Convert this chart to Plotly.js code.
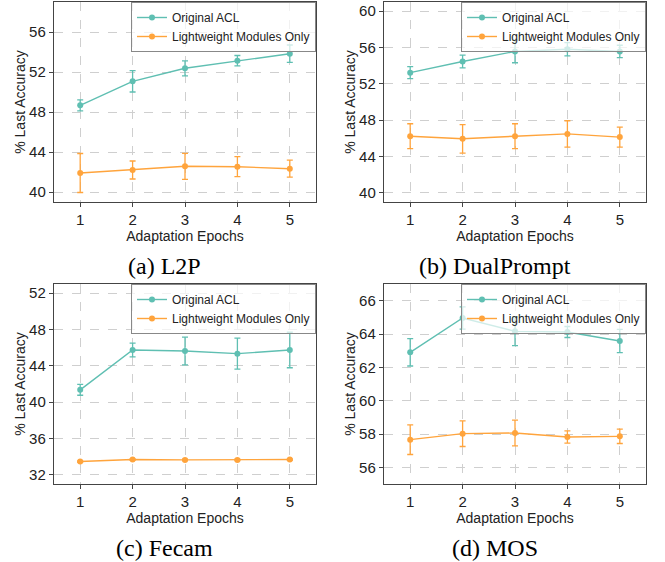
<!DOCTYPE html>
<html>
<head>
<meta charset="utf-8">
<script src="https://cdn.plot.ly/plotly-3.0.1.min.js"></script>
<style>html,body{margin:0;padding:0;background:#fff;}#chart{width:665px;height:562px;}</style>
</head>
<body>
<div id="chart"></div>
<script>
// ---- Data ----
const epochs = [1, 2, 3, 4, 5];
const seriesNames = ["Original ACL", "Lightweight Modules Only"];
const panelCaptions = ["(a) L2P", "(b) DualPrompt", "(c) Fecam", "(d) MOS"];

const l2pACL = [48.67, 51.07, 52.37, 53.13, 53.83];
const l2pACLErr = [0.55, 1.07, 0.75, 0.52, 0.87];
const l2pLW = [41.9, 42.2, 42.57, 42.53, 42.33];
const l2pLWErr = [1.95, 0.9, 1.3, 1.0, 0.85];

const dpACL = [53.23, 54.46, 55.56, 55.81, 55.56];
const dpACLErr = [0.66, 0.7, 1.24, 0.73, 0.68];
const dpLW = [46.24, 45.95, 46.24, 46.49, 46.14];
const dpLWErr = [1.37, 1.57, 1.37, 1.45, 1.1];

const fecamACL = [41.36, 45.74, 45.63, 45.34, 45.74];
const fecamACLErr = [0.6, 0.75, 1.52, 1.7, 1.95];
const fecamLW = [33.47, 33.69, 33.65, 33.65, 33.69];
const fecamLWErr = [0.08, 0.08, 0.08, 0.08, 0.08];

const mosACL = [62.9, 64.96, 64.16, 64.12, 63.58];
const mosACLErr = [0.82, 0.67, 0.86, 0.33, 0.7];
const mosLW = [57.66, 58.02, 58.06, 57.82, 57.86];
const mosLWErr = [0.89, 0.77, 0.77, 0.37, 0.43];

const yRanges = [[39, 59], [39, 61], [31, 53], [55, 67]];
const yDticks = [4, 4, 4, 2];

// ---- Styling ----
const tealColor = "#5fbfb2";
const orangeColor = "#ffa43c";
const sansFont = "Liberation Sans, Arial, sans-serif";
const serifFont = "Liberation Serif, Times New Roman, serif";

const panels = [
  {acl: l2pACL, aclErr: l2pACLErr, lw: l2pLW, lwErr: l2pLWErr},
  {acl: dpACL, aclErr: dpACLErr, lw: dpLW, lwErr: dpLWErr},
  {acl: fecamACL, aclErr: fecamACLErr, lw: fecamLW, lwErr: fecamLWErr},
  {acl: mosACL, aclErr: mosACLErr, lw: mosLW, lwErr: mosLWErr}
];

const W = 665, H = 562;
const xDomains = [[54 / W, 316 / W], [384 / W, 646 / W], [54 / W, 316 / W], [384 / W, 646 / W]];
const yDomains = [[1 - 202 / H, 1 - 2 / H], [1 - 202 / H, 1 - 2 / H], [1 - 484 / H, 1 - 284 / H], [1 - 484 / H, 1 - 284 / H]];
const captionX = [164 / W, 495 / W, 164 / W, 495 / W];
const captionY = [1 - 266 / H, 1 - 266 / H, 1 - 548 / H, 1 - 548 / H];

const traces = [];
const layout = {
  width: W, height: H,
  margin: {l: 0, r: 0, t: 0, b: 0},
  paper_bgcolor: "#fff", plot_bgcolor: "#fff",
  font: {family: sansFont, size: 14, color: "#222"},
  annotations: []
};

panels.forEach((p, i) => {
  const sfx = i === 0 ? "" : String(i + 1);
  const xa = "x" + sfx, ya = "y" + sfx;
  const legendName = "legend" + sfx;
  const mk = (y, err, color, name) => ({
    type: "scatter", mode: "lines+markers",
    x: epochs, y: y, name: name,
    xaxis: xa, yaxis: ya, legend: legendName,
    line: {color: color, width: 1.4},
    marker: {color: color, size: 6, symbol: "circle"},
    error_y: {type: "data", array: err, visible: true, color: color, thickness: 1.3, width: 3}
  });
  traces.push(mk(p.acl, p.aclErr, tealColor, seriesNames[0]));
  traces.push(mk(p.lw, p.lwErr, orangeColor, seriesNames[1]));

  const axCommon = {
    showline: true, mirror: true, linecolor: "#444", linewidth: 1.2,
    ticks: "outside", ticklen: 4, tickwidth: 1, tickcolor: "#444",
    showgrid: true, gridcolor: "#cfcfcf", griddash: "dash", gridwidth: 1,
    zeroline: false, tickfont: {family: sansFont, size: 15, color: "#222"}
  };
  layout["xaxis" + sfx] = Object.assign({}, axCommon, {
    domain: xDomains[i], anchor: ya, range: [0.5, 5.5],
    tickmode: "array", tickvals: epochs, ticktext: epochs.map(String),
    title: {text: "Adaptation Epochs", font: {family: sansFont, size: 14, color: "#222"}, standoff: 0}
  });
  layout["yaxis" + sfx] = Object.assign({}, axCommon, {
    domain: yDomains[i], anchor: xa, range: yRanges[i],
    dtick: yDticks[i], tick0: 0,
    title: {text: "% Last Accuracy", font: {family: sansFont, size: 14, color: "#222"}, standoff: 0}
  });
  layout[legendName] = {
    x: xDomains[i][1], xanchor: "right",
    y: yDomains[i][1], yanchor: "top",
    bgcolor: "rgba(255,255,255,0.7)", bordercolor: "#888", borderwidth: 1,
    font: {family: sansFont, size: 12, color: "#222"},
    tracegroupgap: 0, itemwidth: 30
  };
  layout.annotations.push({
    text: panelCaptions[i], xref: "paper", yref: "paper",
    x: captionX[i], y: captionY[i],
    xanchor: "center", yanchor: "middle", showarrow: false,
    font: {family: serifFont, size: 24, color: "#000"}
  });
});

Plotly.newPlot("chart", traces, layout, {staticPlot: true, displayModeBar: false});
</script>
</body>
</html>
